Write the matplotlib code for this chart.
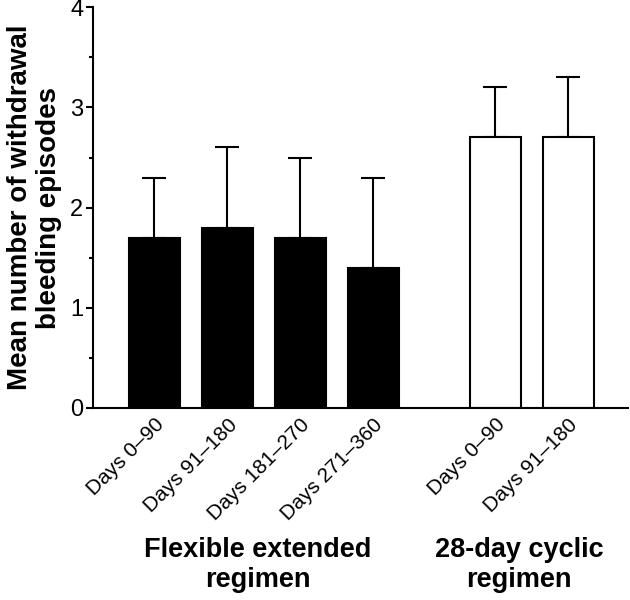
import numpy as np
import matplotlib.pyplot as plt
from matplotlib.ticker import MultipleLocator

plt.rcParams['font.family'] = ['Liberation Sans', 'DejaVu Sans']

labels = ['Days 0–90', 'Days 91–180', 'Days 181–270', 'Days 271–360',
          'Days 0–90', 'Days 91–180']
means = [1.7, 1.8, 1.7, 1.4, 2.7, 2.7]
upper = [2.3, 2.6, 2.5, 2.3, 3.2, 3.3]
colors = ['black', 'black', 'black', 'black', 'white', 'white']
groups = ['Flexible extended\nregimen', '28-day cyclic\nregimen']

pos = np.array([0, 1, 2, 3, 4.67, 5.67])
err = np.array(upper) - np.array(means)

fig = plt.figure(figsize=(6.3, 6), dpi=100)
ax = fig.add_axes([0.1476, 0.32, 0.997 - 0.1476, 0.668])

ax.bar(pos, means, width=0.7, color=colors, edgecolor='black', linewidth=1.5, zorder=2)
ax.errorbar(pos, means, yerr=[np.zeros(len(err)), err], fmt='none', ecolor='black',
            elinewidth=1.5, capsize=8.5, capthick=1.5, zorder=1)

ax.set_xlim(-0.84, 6.49)
ax.set_ylim(0, 4)
ax.yaxis.set_major_locator(MultipleLocator(1))
ax.yaxis.set_minor_locator(MultipleLocator(0.5))
ax.tick_params(axis='y', which='major', length=5, width=1.5, labelsize=17, pad=2)
ax.tick_params(axis='y', which='minor', length=3, width=1.5)
ax.set_xticks(pos)
ax.set_xticklabels(labels, rotation=45, ha='right', rotation_mode='anchor', fontsize=15)
ax.tick_params(axis='x', length=0, pad=5)

for s in ['top', 'right']:
    ax.spines[s].set_visible(False)
for s in ['left', 'bottom']:
    ax.spines[s].set_linewidth(1.5)

ax.set_ylabel('Mean number of withdrawal\nbleeding episodes', fontsize=20,
              fontweight='bold', labelpad=6, linespacing=1.15)

fig.text(258 / 630, 1 - 565 / 600, groups[0], ha='center', va='center',
         fontsize=19.5, fontweight='bold', linespacing=1.2)
fig.text(519 / 630, 1 - 565 / 600, groups[1], ha='center', va='center',
         fontsize=19.5, fontweight='bold', linespacing=1.2)

fig.savefig('out.png', dpi=100)
